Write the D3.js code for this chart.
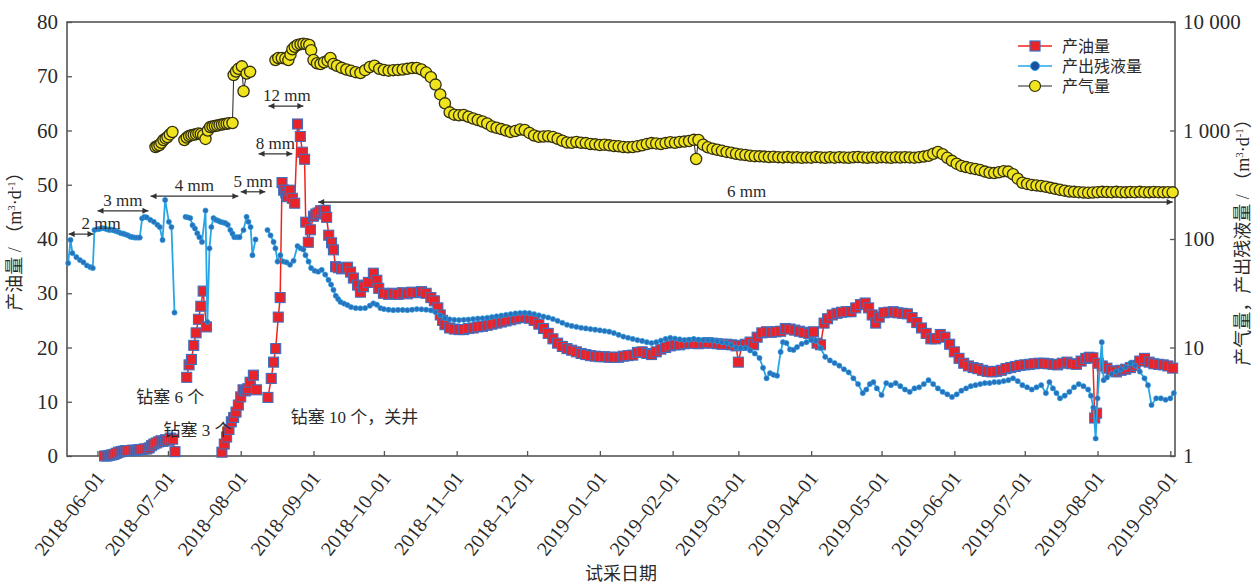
<!DOCTYPE html>
<html>
<head>
<meta charset="utf-8">
<script src="https://cdn.jsdelivr.net/npm/d3@7"></script>
<style>
  body { margin: 0; background: #fff; }
  text { fill: #2a2a2a; }
</style>
</head>
<body>
<svg id="chart" width="1257" height="583"></svg>
<script>
// ---- data -------------------------------------------------------------
// day offsets are counted from 2018-06-01; null marks a break in the record
const baseDay = "2018-06-01";
const dateTicks = ["2018-06-01","2018-07-01","2018-08-01","2018-09-01","2018-10-01","2018-11-01",
  "2018-12-01","2019-01-01","2019-02-01","2019-03-01","2019-04-01","2019-05-01","2019-06-01",
  "2019-07-01","2019-08-01","2019-09-01"];
const oilTicks = [0, 10, 20, 30, 40, 50, 60, 70, 80];
const logTicks = [1, 10, 100, 1000, 10000];
const seriesNames = ["产油量", "产出残液量", "产气量"];

// 产油量 (left axis, m3/d)
const oilData = [
  [3,0],[4,0],[5,0.1],[6,0.2],[7,0.3],[8,0.5],[9,0.7],[10,0.8],[11,0.9],[12,1],[13,1],[14,1],
  [15,1.1],[16,1],[17,1.1],[18,1.2],[19,1.2],[20,1.3],[21,1.3],[22,1.5],[23,1.9],[24,2.2],
  [25,2.4],[26,2.6],[27,2.8],[28,2.7],[29,3],[30,2.9],[31,3.3],[32,3.1],[33,0.8],
  [35,null],
  [38,14.5],[39,16.8],[40,17.8],[41,20.4],[42,22.7],[43,25.2],[44,27.6],[45,30.4],[46.4,23.8],
  [49,null],
  [53,0.7],[54,2.2],[55,3.5],[56,4.9],[57,6.3],[58,7.1],[59,8.1],[60,9.4],[61,10.9],[62,12.2],
  [63,12],[64,12.4],[65,13.6],[66.4,14.9],[67.7,12.2],
  [70,null],
  [72.6,10.8],[74,14.3],[75,17.3],[75.9,19.8],[77,25.6],[77.8,29.2],[78.6,50.4],[79.3,49],
  [80.2,48.5],[81,47.8],[82,49],[83,47.5],[84,46.6],[85.2,61.2],[86.4,58.9],[87.3,56],
  [88.2,54.7],[88.7,43.1],[89.8,39.4],[90.7,41.7],[92,44.2],[93,44.6],[94,44.8],[95,45.2],
  [96,45.2],[97,45.3],[97.6,44],[98.5,40.7],[99.7,39.3],[100.5,38],[101.4,34.9],[102.6,34.7],
  [104,34.5],[105.3,34.6],[106.5,34.8],[107.8,33.9],[109,32.8],[110.8,31.5],[112,30.2],
  [113.3,31.2],[115.4,32],[117.5,33.7],[119,32.4],[119.8,30.9],[121.8,30],[124,29.8],[126,30],
  [128,29.8],[130,30.1],[132,29.9],[134,30.2],[136,30.1],[138,30.3],[140,30],[142,29.2],
  [143.5,28.6],[145,27.3],[146,26],[147,25],[148,24.2],[150,23.6],[152,23.4],[154,23.3],
  [156,23.3],[158,23.5],[160,23.6],[162,23.8],[164,23.9],[166,24.1],[168,24.3],[170,24.5],
  [172,24.7],[174,24.9],[176,25.1],[178,25.3],[180,25.5],[182,25.6],[184,25.4],[186,25],
  [188,24.3],[190,23.5],[192,22.6],[194,21.6],[196,20.8],[198,20.2],[200,19.8],[202,19.5],
  [204,19.2],[206,18.9],[208,18.7],[210,18.5],[212,18.4],[214,18.3],[216,18.3],[218,18.2],
  [220,18.2],[222,18.2],[224,18.4],[226,18.5],[228,18.6],[230,19.1],[232,19.2],[234,18.9],
  [236,18.7],[238,19.2],[240,19.7],[242,20],[244,20.3],[246,20.5],[248,20.5],[250,20.7],
  [252,20.8],[254,20.8],[256,20.7],[258,20.8],[260,20.9],[262,20.8],[264,20.7],[266,20.6],
  [268,20.6],[270,20.5],[272,20.3],[273,17.3],[274.5,20.4],[276,20.6],[278,21],[279.5,20.5],
  [281,21.9],[283,22.7],[285,22.9],[287,22.8],[289,22.9],[291,23],[293,23.5],[295,23.4],
  [297,23.2],[299,23],[301,22.8],[303,22.6],[305,22.9],[306.5,20.8],[308,20.5],[309.5,24.5],
  [311,25.3],[313,26],[315,26.3],[317,26.5],[319,26.6],[321,26.6],[323,27.3],[325,27.9],
  [327,28.2],[328.5,27.3],[330,26],[331.5,24.5],[333,25.6],[335,26.4],[337,26.5],[339,26.6],
  [341,26.4],[343,26.3],[345,26.2],[347,25.5],[349,24.6],[351,23.6],[353,22.6],[355,21.6],
  [357,21.6],[359,22.4],[361,21.9],[363,20.6],[365,19.2],[367,18],[369,17.1],[371,16.6],
  [373,16.3],[375,16.1],[377,15.8],[379,15.6],[381,15.5],[383,15.6],[385,15.8],[387,16.1],
  [389,16.3],[391,16.5],[393,16.7],[395,16.8],[397,16.9],[399,17],[401,17.1],[403,17.1],
  [405,17],[407,16.9],[409,16.8],[411,17.1],[413,17.3],[415,17],[417,16.9],[419,17.5],
  [421,18],[422.5,18.2],[424,18.1],[424.8,7],[425.6,7.9],[426.3,17.1],[428,16.6],[430,16.2],
  [432,15.7],[434,15.5],[436,15.8],[438,16],[440,16.3],[442,16.7],[444,17.5],[446,18],
  [448,17.3],[450,17],[452,16.9],[454,16.8],[456,16.6],[458,16.2]
];

// 产出残液量 (right axis, m3/d)
const liquidData = [
  [-12.5,60],[-11.5,98],[-10.7,74],[-9,68],[-7.5,64],[-6,61],[-4.5,57],[-3,55],[-2,54],
  [-1.3,121],[0,123],[1,124],[2,126],[3,125],[4,123],[5,121],[6,122],[7,120],[8,118],[9,116],
  [10,113],[11,112],[12,110],[13,108],[14,105],[15,104],[16,103],[17,103],[18,103],[19,155],
  [20,160],[21,158],[22.5,150],[24,144],[25.5,135],[26.5,129],[27.7,98],[28.8,229],[30.4,144],
  [31.5,129],[32.8,21],
  [35,null],
  [37.5,160],[38.5,158],[39.5,156],[40.5,134],[41.5,125],[42.5,113],[43.4,104],[44.5,94],
  [46,183],[46.8,17.2],[47.7,82],[48.5,129],[49.4,156],[50.5,150],[51.5,147],[52.4,144],
  [53.5,142],[54.5,140],[55.5,135],[56.6,121],[57.5,112],[58.3,104],[59.5,104],[60.5,104],
  [62.2,121],[63.5,160],[64.3,144],[65.2,129],[66,71],[67.3,99],
  [70,null],
  [72.4,121],[73.7,108],[75,94],[75.8,82],[76.7,62],[77.9,71],[79.2,62],[80.5,61],[82,58],
  [83.5,63],[85.2,86],[86.5,82],[87.7,80],[88.6,71],[89.9,62],[91,54],[92.5,51],[94,50],
  [95.5,52],[97,47],[98.4,42],[99.5,38],[100.5,34],[101.5,30],[102.5,28],[103.5,26.3],
  [105,25.4],[106.5,24.6],[108,23.6],[110,23.1],[112,23],[114,23.1],[116,24.3],[117.5,25.5],
  [119,24.8],[120.5,23.1],[122,22.6],[124,22.3],[126,22.1],[128,22.2],[130,22.2],[132,22.1],
  [134,22.3],[136,22.6],[138,22.5],[140,22.3],[142,22],[144,21.2],[146,19.8],[148,18.6],
  [150,18.2],[152,18],[154,17.9],[156,18],[158,18.1],[160,18.3],[162,18.5],[164,18.6],
  [166,18.8],[168,19.1],[170,19.4],[172,19.7],[174,20],[176,20.3],[178,20.6],[180,20.8],
  [182,20.9],[184,20.7],[186,20.3],[188,19.8],[190,19.3],[192,18.9],[194,18.3],[196,17.6],
  [198,16.9],[200,16.2],[202,15.8],[204,15.5],[206,15.2],[208,15],[210,14.8],[212,14.6],
  [214,14.4],[216,14.2],[218,14],[220,13.6],[222,13.1],[224,12.6],[226,12.3],[228,12],
  [230,11.7],[232,11.5],[234,11.2],[236,11],[238,11.2],[240,11.6],[242,12],[244,12.3],
  [246,12.1],[248,11.9],[250,11.7],[252,11.8],[254,12],[256,11.8],[258,11.7],[260,11.7],
  [262,11.6],[264,11.4],[266,11.2],[268,11],[270,10.6],[272,10],[274,9.9],[276,9.9],
  [278,9.4],[280,8.8],[282,8],[283.5,6.5],[285,5.2],[286.5,5.8],[288,5.6],[289.5,5.5],
  [291,9.1],[292,11.2],[293.5,11],[295,9.6],[296.5,9.5],[298,10.1],[300,10.8],[302,11.2],
  [304,11.7],[306,11.5],[308,9.9],[310,8.2],[312,7.6],[314,7.2],[316,6.8],[318,6.3],
  [320,5.9],[322,5.2],[324,4.6],[326,3.8],[327.5,4.1],[329,4.6],[330.5,4.8],[332,4.2],
  [334,3.65],[336,4.7],[338,4.5],[340,4.7],[342,4.4],[344,4.1],[346,3.9],[348,4.2],
  [350,4.3],[352,4.6],[354,5],[356,4.6],[358,4.2],[360,3.9],[362,3.7],[364,3.5],[366,3.7],
  [368,4],[370,4.2],[372,4.4],[374,4.5],[376,4.6],[378,4.7],[380,4.7],[382,4.8],[384,4.8],
  [386,4.9],[388,5],[390,5.2],[392,4.9],[394,4.5],[396,4.3],[398,4.1],[400,4.3],[402,4.5],
  [404,3.8],[405.5,4.8],[407,4.2],[408.5,3.8],[410,3.4],[412,3.6],[414,3.9],[416,4.3],
  [418,4.6],[420,4.4],[422,4.1],[423.2,3.6],[424.2,2.8],[425.2,1.45],[426,3.4],[427.8,11.2],
  [428.6,5],[430,5.3],[432,5.7],[434,6],[436,6.3],[438,6.6],[440,7.2],[442,6.8],[444,6],
  [446,5.2],[447.5,4.5],[449,2.95],[451,3.4],[453,3.4],[455,3.3],[457,3.4],[458.5,3.8]
];

// 产气量 (right axis, m3/d)
const gasData = [
  [24.7,705],[25.5,720],[26.4,735],[27.2,770],[28.1,817],[29,845],[29.8,871],[30.8,920],[31.9,968],
  [34,null],
  [37,817],[38,860],[39,890],[40,905],[41,915],[42,925],[43,940],[44,930],[45,905],[46,836],
  [47,1000],[48,1077],[49,1090],[50,1100],[51,1110],[52,1125],[53,1135],[54,1150],[55,1155],
  [56,1165],[57.5,1173],[58,3250],[59,3500],[60,3700],[61.5,3900],[62.2,2300],[63.5,3350],
  [65,3470],
  [70,null],
  [75.8,4460],[77,4660],[78.5,4660],[80,4600],[81.3,4460],[82.2,5000],[83,5600],[84,5900],
  [85.2,6150],[86.5,6250],[87.7,6300],[89,6250],[90.2,6150],[91,5500],[92,4460],[93.5,4170],
  [95,4100],[96.5,4250],[98,4400],[99.2,4660],[100.5,4100],[102,3950],[104,3780],[106,3650],
  [108,3550],[110,3450],[112,3390],[114,3600],[116,3850],[118,3950],[120,3700],[122,3610],
  [124,3560],[126,3600],[128,3620],[130,3650],[132,3700],[134,3760],[136,3770],[138,3650],
  [140,3420],[142,3100],[144,2650],[146,2150],[148,1780],[150,1470],[152,1400],[154,1380],
  [156,1390],[158,1340],[160,1290],[162,1250],[164,1210],[166,1160],[168,1090],[170,1060],
  [172,1030],[174,1000],[176,970],[178,990],[180,1020],[182,1010],[184,950],[186,900],
  [188,875],[190,880],[192,885],[194,870],[196,840],[198,805],[200,775],[202,770],[204,785],
  [206,770],[208,765],[210,750],[212,745],[214,735],[216,740],[218,730],[220,720],[222,715],
  [224,705],[226,700],[228,705],[230,715],[232,730],[234,750],[236,765],[238,760],[240,750],
  [242,765],[244,780],[246,770],[248,785],[250,790],[252,800],[254,820],[255,546],[256,817],
  [258,740],[260,700],[262,680],[264,665],[266,650],[268,635],[270,625],[272,610],[274,600],
  [276,595],[278,585],[280,580],[282,578],[284,575],[286,570],[288,572],[290,568],[292,565],
  [294,570],[296,563],[298,567],[300,560],[302,565],[304,562],[306,570],[308,565],[310,560],
  [312,566],[314,562],[316,568],[318,563],[320,560],[322,566],[324,570],[326,565],[328,560],
  [330,566],[332,562],[334,568],[336,565],[338,560],[340,566],[342,563],[344,568],[346,565],
  [348,562],[350,568],[352,575],[354,585],[356,610],[358,635],[360,605],[362,560],[364,525],
  [366,495],[368,472],[370,460],[372,450],[374,442],[376,432],[378,418],[380,408],[382,405],
  [384,412],[386,422],[388,418],[390,395],[392,360],[394,330],[396,322],[398,315],[400,312],
  [402,308],[404,303],[406,296],[408,290],[410,284],[412,279],[414,274],[416,272],[418,270],
  [420,268],[422,267],[424,268],[426,270],[428,272],[430,271],[432,270],[434,272],[436,270],
  [438,269],[440,271],[442,270],[444,272],[446,270],[448,269],[450,271],[452,270],[454,269],
  [456,270],[458,269]
];

// choke-size intervals: [label, start day, end day, level on left axis, label day]
const chokes = [
  ["2 mm", -12.3, -1.7, 40.9, 1.5],
  ["3 mm", 0, 21.7, 45.2, 10.8],
  ["4 mm", 22.6, 60, 47.9, 41.3],
  ["5 mm", 61, 71.5, 48.7, 66.3],
  ["8 mm", 68.6, 83, 55.7, 75.8],
  ["12 mm", 72.8, 87.7, 64.5, 80.7],
  ["6 mm", 94, 458, 46.8, 276.5]
];
// operation notes: [text, day, left-axis level]
const notes = [
  ["钻塞 6 个", 31, 10.9],
  ["钻塞 3 个", 42.6, 4.8],
  ["钻塞 10 个，关井", 109.5, 7.2]
];

// ---- layout -----------------------------------------------------------
const svg = d3.select("#chart");
const plotL = 67, plotR = 1175, plotT = 22, plotB = 456;
const serif = "'Liberation Serif','Times New Roman','Noto Sans CJK SC',serif";
const cjk = "'Liberation Serif','Noto Sans CJK SC',serif";

const parse = d3.utcParse("%Y-%m-%d");
const base = parse(baseDay);
const toDate = d => new Date(base.getTime() + d * 864e5);

const x = d3.scaleUtc().domain([parse("2018-05-19"), parse("2019-09-03")]).range([plotL, plotR]);
const yOil = d3.scaleLinear().domain([0, 80]).range([plotB, plotT]);
const yLog = d3.scaleLog().domain([1, 10000]).range([plotB, plotT]);

const colors = {
  oilLine: "#f2231b", oilFill: "#e8232a", oilEdge: "#3f6fc0",
  liqLine: "#27a6e6", liqFill: "#2a6fba",
  gasLine: "#222", gasFill: "#efe41e", gasEdge: "#34300e",
  frame: "#555"
};

// ---- axes -------------------------------------------------------------
const gx = svg.append("g").attr("transform", `translate(0,${plotB})`)
  .call(d3.axisBottom(x).tickValues(dateTicks.map(parse)).tickSize(-5).tickFormat(d3.utcFormat("%Y–%m–%d")));
gx.selectAll("text")
  .attr("font-family", serif).attr("font-size", 20)
  .attr("text-anchor", "end")
  .attr("y", 0).attr("dy", "0.35em")
  .attr("transform", "translate(2,18) rotate(-52)");

const gl = svg.append("g").attr("transform", `translate(${plotL},0)`)
  .call(d3.axisLeft(yOil).tickValues(oilTicks).tickSize(-5).tickPadding(9));
gl.selectAll("text").attr("font-family", serif).attr("font-size", 21);

const gr = svg.append("g").attr("transform", `translate(${plotR},0)`)
  .call(d3.axisRight(yLog).tickValues(logTicks).tickSize(-5).tickPadding(8)
    .tickFormat(v => d3.format(",")(v).replace(",", " ")));
gr.selectAll("text").attr("font-family", serif).attr("font-size", 21);

[gx, gl, gr].forEach(g => {
  g.select(".domain").remove();
  g.selectAll("line").attr("stroke", colors.frame).attr("stroke-width", 1.3);
  g.selectAll("text").attr("fill", "#2a2a2a");
});

svg.append("rect").attr("x", plotL).attr("y", plotT)
  .attr("width", plotR - plotL).attr("height", plotB - plotT)
  .attr("fill", "none").attr("stroke", colors.frame).attr("stroke-width", 1.6);

// axis titles
svg.append("text").attr("transform", `translate(21,237) rotate(-90)`)
  .attr("text-anchor", "middle").attr("font-family", cjk).attr("font-size", 18)
  .html("产油量 / （m<tspan dy='-6' font-size='11'>3</tspan><tspan dy='6'>·d</tspan><tspan dy='-6' font-size='11'>-1</tspan><tspan dy='6'>）</tspan>");
svg.append("text").attr("transform", `translate(1249,238) rotate(-90)`)
  .attr("text-anchor", "middle").attr("font-family", cjk).attr("font-size", 18)
  .html("产气量，产出残液量 / （m<tspan dy='-6' font-size='11'>3</tspan><tspan dy='6'>·d</tspan><tspan dy='-6' font-size='11'>-1</tspan><tspan dy='6'>）</tspan>");
svg.append("text").attr("x", 621).attr("y", 580).attr("text-anchor", "middle")
  .attr("font-family", cjk).attr("font-size", 18).text("试采日期");

// ---- series -----------------------------------------------------------
const valid = data => data.filter(p => p[1] != null);

// oil
const oilLine = d3.line().defined(p => p[1] != null)
  .x(p => x(toDate(p[0]))).y(p => yOil(p[1]));
svg.append("path").datum(oilData).attr("d", oilLine)
  .attr("fill", "none").attr("stroke", colors.oilLine).attr("stroke-width", 1.5);
svg.append("g").selectAll("rect").data(valid(oilData)).join("rect")
  .attr("x", p => x(toDate(p[0])) - 5).attr("y", p => yOil(p[1]) - 5)
  .attr("width", 10).attr("height", 10)
  .attr("fill", colors.oilFill).attr("stroke", colors.oilEdge).attr("stroke-width", 1.1);

// residual liquid
const logLine = d3.line().defined(p => p[1] != null)
  .x(p => x(toDate(p[0]))).y(p => yLog(p[1]));
svg.append("path").datum(liquidData).attr("d", logLine)
  .attr("fill", "none").attr("stroke", colors.liqLine).attr("stroke-width", 1.8);
svg.append("g").selectAll("circle").data(valid(liquidData)).join("circle")
  .attr("cx", p => x(toDate(p[0]))).attr("cy", p => yLog(p[1])).attr("r", 2.6)
  .attr("fill", colors.liqFill).attr("stroke", colors.liqLine).attr("stroke-width", 0.6);

// gas
svg.append("path").datum(gasData).attr("d", logLine)
  .attr("fill", "none").attr("stroke", colors.gasLine).attr("stroke-width", 1);
svg.append("g").selectAll("circle").data(valid(gasData)).join("circle")
  .attr("cx", p => x(toDate(p[0]))).attr("cy", p => yLog(p[1])).attr("r", 5.6)
  .attr("fill", colors.gasFill).attr("stroke", colors.gasEdge).attr("stroke-width", 1.3);

// ---- choke-size arrows ------------------------------------------------
const defs = svg.append("defs");
defs.append("marker").attr("id", "ah").attr("viewBox", "0 0 10 10")
  .attr("refX", 10).attr("refY", 5).attr("markerWidth", 9).attr("markerHeight", 6)
  .attr("markerUnits", "userSpaceOnUse").attr("orient", "auto-start-reverse")
  .append("path").attr("d", "M0,0 L10,5 L0,10 Z").attr("fill", "#333");

chokes.forEach(([label, d0, d1, lvl, dl]) => {
  const yy = yOil(lvl);
  svg.append("line").attr("x1", x(toDate(d0))).attr("x2", x(toDate(d1)))
    .attr("y1", yy).attr("y2", yy)
    .attr("stroke", label === "6 mm" ? "#555" : "#333").attr("stroke-width", label === "6 mm" ? 1.6 : 1.2)
    .attr("marker-start", "url(#ah)").attr("marker-end", "url(#ah)");
  svg.append("text").attr("x", x(toDate(dl))).attr("y", yy - 5)
    .attr("text-anchor", "middle").attr("font-family", serif).attr("font-size", 17)
    .attr("fill", "#222").text(label);
});

notes.forEach(([t, d, lvl]) => {
  svg.append("text").attr("x", x(toDate(d))).attr("y", yOil(lvl))
    .attr("dy", "0.35em").attr("text-anchor", "middle")
    .attr("font-family", cjk).attr("font-size", 17).text(t);
});

// ---- legend -----------------------------------------------------------
const lg = svg.append("g").attr("transform", "translate(1018,0)");
const rows = [46, 66, 86];
// 产油量
lg.append("line").attr("x1", 0).attr("x2", 34).attr("y1", rows[0]).attr("y2", rows[0])
  .attr("stroke", colors.oilLine).attr("stroke-width", 1.5);
lg.append("rect").attr("x", 12).attr("y", rows[0] - 5).attr("width", 10).attr("height", 10)
  .attr("fill", colors.oilFill).attr("stroke", colors.oilEdge).attr("stroke-width", 1.2);
// 产出残液量
lg.append("line").attr("x1", 0).attr("x2", 34).attr("y1", rows[1]).attr("y2", rows[1])
  .attr("stroke", colors.liqLine).attr("stroke-width", 1.5);
lg.append("circle").attr("cx", 17).attr("cy", rows[1]).attr("r", 4.5)
  .attr("fill", "#1e4f9c").attr("stroke", colors.liqLine).attr("stroke-width", 1);
// 产气量
lg.append("line").attr("x1", 0).attr("x2", 34).attr("y1", rows[2]).attr("y2", rows[2])
  .attr("stroke", colors.gasLine).attr("stroke-width", 1);
lg.append("circle").attr("cx", 17).attr("cy", rows[2]).attr("r", 5.5)
  .attr("fill", colors.gasFill).attr("stroke", colors.gasEdge).attr("stroke-width", 1.2);
seriesNames.forEach((n, i) => {
  lg.append("text").attr("x", 44).attr("y", rows[i]).attr("dy", "0.35em")
    .attr("font-family", cjk).attr("font-size", 16).text(n);
});
</script>
</body>
</html>
